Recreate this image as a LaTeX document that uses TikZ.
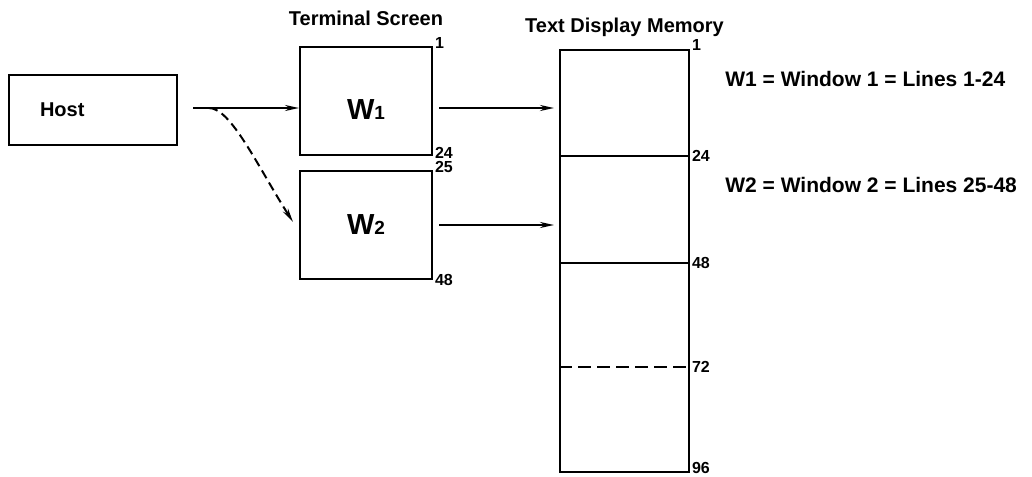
\documentclass[tikz,border=0pt]{standalone}
\usepackage{fontspec}
\setmainfont{Liberation Sans}
\usetikzlibrary{positioning, arrows.meta}

\begin{document}
\begin{tikzpicture}[x=1pt, y=-1pt, line width=2pt,
  box/.style={draw, rectangle, inner sep=0pt},
  lbl/.style={font=\fontsize{20}{22}\selectfont\bfseries},
  num/.style={anchor=west, inner sep=1pt, font=\fontsize{16}{17}\selectfont\bfseries},
  big/.style={font=\fontsize{29}{30}\selectfont\bfseries},
  arr/.style={-{Stealth[length=14pt, width=6pt]}}]
\useasboundingbox (0,0) rectangle (1032,476);

% boxes
\node[box, lbl, minimum width=168pt, minimum height=69pt, text width=106pt, align=left] (host) at (93,110) {Host};
\node[box, minimum width=132pt, minimum height=108pt] (w1) at (366,101) {};
\node[box, minimum width=132pt, minimum height=108pt, below=14pt of w1] (w2) {};
\node[box, minimum width=129pt, minimum height=422pt, anchor=north west] (mem) at ([xshift=126pt, yshift=-3pt]w1.north east) {};

\node[big] (w1txt) at ([yshift=-9pt]w1.center) {W{\fontsize{19}{20}\selectfont 1}};
\node[big] (w2txt) at (w2.center) {W{\fontsize{19}{20}\selectfont 2}};

% memory sections
\draw (mem.north west) ++(0,107) -- ++(129,0);
\draw (mem.north west) ++(0,214) -- ++(129,0);
\draw[dash pattern=on 13pt off 6pt] (mem.north west) ++(0,318) -- ++(129,0);

% titles
\node[lbl, above=16pt of w1] (termtitle) {Terminal Screen};
\node[lbl, above=8pt of mem] (memtitle) {Text Display Memory};

% line numbers
\node[num] (s1) at ([yshift=3pt]w1.north east) {1};
\node[num] (s24) at ([yshift=3pt]w1.south east) {24};
\node[num] (s25) at ([yshift=3pt]w2.north east) {25};
\node[num] (s48) at (w2.south east) {48};
\node[num] (m1) at ([yshift=4pt]mem.north east) {1};
\node[num] (m24) at ([yshift=-107pt]mem.north east) {24};
\node[num] (m48) at ([yshift=-214pt]mem.north east) {48};
\node[num] (m72) at ([yshift=-318pt]mem.north east) {72};
\node[num] (m96) at ([yshift=5pt]mem.south east) {96};

% connectors
\coordinate (fork) at ([xshift=15pt, yshift=2pt]host.east);
\draw[arr] (fork) -- (fork -| w1.west);
\draw[arr, dash pattern=on 9pt off 5pt] ([xshift=16pt]fork) .. controls +(22,0) and +(-35,-55) .. ([xshift=-6pt, yshift=3pt]w2.west);
\coordinate (a1) at ([xshift=6pt, yshift=-7pt]w1.east);
\coordinate (a2) at ([xshift=6pt]w2.east);
\draw[arr, shorten >=5pt] (a1) -- (a1 -| mem.west);
\draw[arr, shorten >=5pt] (a2) -- (a2 -| mem.west);

% legend
\node[lbl, font=\fontsize{21}{23}\selectfont\bfseries, anchor=west] (w1def) at ([xshift=31pt, yshift=-30pt]mem.north east) {W1 = Window 1 = Lines 1-24};
\node[lbl, font=\fontsize{21}{23}\selectfont\bfseries, anchor=west] (w2def) at ([xshift=31pt, yshift=-136pt]mem.north east) {W2 = Window 2 = Lines 25-48};
\end{tikzpicture}
\end{document}
